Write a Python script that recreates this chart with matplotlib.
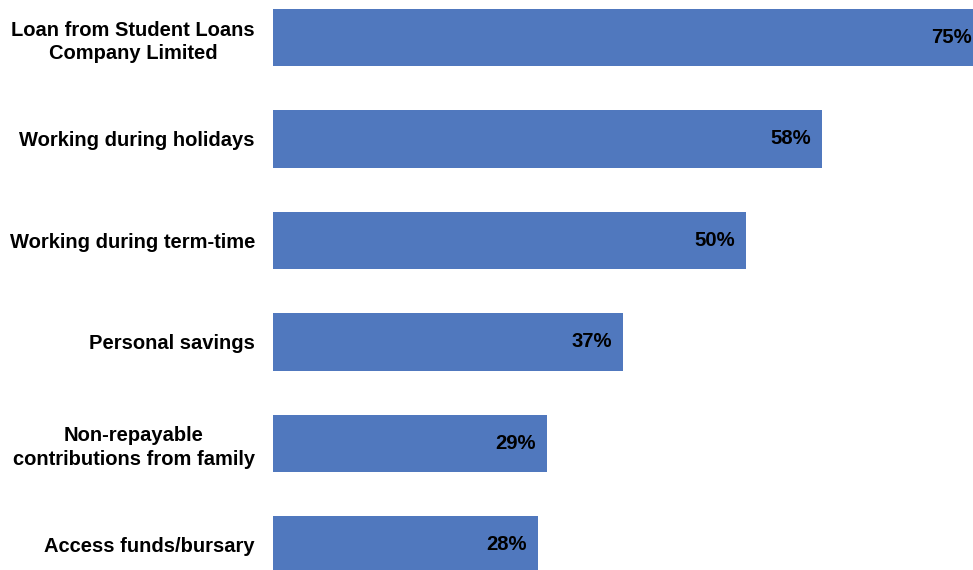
import numpy as np
import matplotlib.pyplot as plt

plt.rcParams['font.family'] = ['Liberation Sans', 'DejaVu Sans']

# Sources of student funding (% of students)
categories = [
    'Loan from Student Loans\nCompany Limited',
    'Working during holidays',
    'Working during term-time',
    'Personal savings',
    'Non-repayable\ncontributions from family',
    'Access funds/bursary',
]
shares = [75, 58, 50, 37, 29, 28]
bar_color = '#5078BE'

fig = plt.figure(figsize=(9.73, 5.70), dpi=100)
ax = fig.add_axes([273 / 973, 0.0, 1 - 273 / 973, 1.0])

y = np.arange(len(categories))
bars = ax.barh(y, shares, height=0.566, color=bar_color)

for rect, v in zip(bars, shares):
    ax.annotate(f'{v}%', xy=(rect.get_width(), rect.get_y() + rect.get_height() / 2),
                xytext=(-8, 0), textcoords='offset points',
                ha='right', va='center', fontsize=14.6, fontweight='bold',
                color='black', annotation_clip=False)

ax.set_xlim(0, 74)
ax.set_ylim(5.25, -0.37)
ax.set_yticks(y)
ax.set_yticklabels(categories, fontsize=14.5, fontweight='bold')
for t in ax.get_yticklabels():
    t.set_multialignment('center')
    t.set_linespacing(1.3)
ax.tick_params(axis='y', length=0, pad=13)
ax.set_xticks([])
for s in ax.spines.values():
    s.set_visible(False)

fig.savefig('out.png', dpi=100)
